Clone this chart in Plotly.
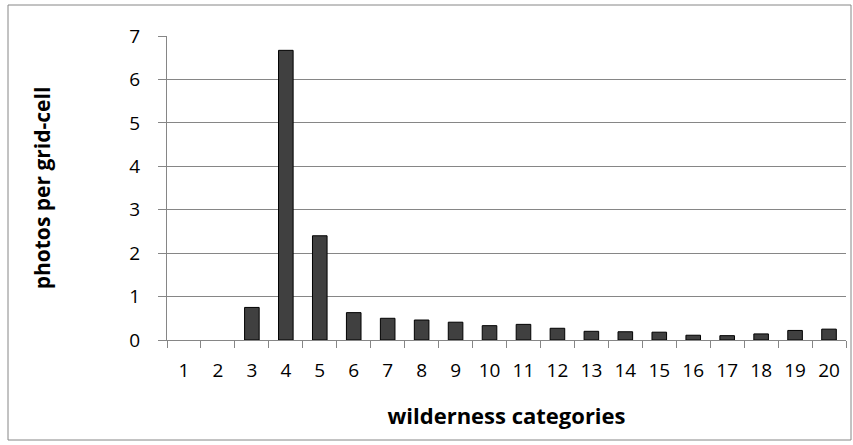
import plotly.graph_objects as go

categories = [str(i) for i in range(1, 21)]
values = [0, 0, 0.75, 6.67, 2.40, 0.63, 0.50, 0.46, 0.41, 0.33,
          0.36, 0.27, 0.20, 0.19, 0.18, 0.11, 0.10, 0.14, 0.22, 0.25]
y_ticks = [0, 1, 2, 3, 4, 5, 6, 7]

W, H = 853, 445
L, R, T, B = 167, 7, 36, 105
pw, ph = W - L - R, H - T - B

def px(x):
    return (x - L) / pw

def py(y):
    return (H - B - y) / ph

fig = go.Figure()
fig.add_trace(go.Bar(
    x=categories, y=values,
    marker=dict(color="#404040",
                line=dict(color="#000000", width=[0 if v == 0 else 1 for v in values])),
    width=0.43,
))

grid = "#868686"
font = "Open Sans"
fig.update_layout(
    width=W, height=H,
    margin=dict(l=L, r=R, t=T, b=B),
    plot_bgcolor="white", paper_bgcolor="white",
    showlegend=False,
    font=dict(family=font, color="#000000", size=19),
    xaxis=dict(
        type="category",
        showline=True, linecolor=grid, linewidth=1,
        ticks="outside", tickson="boundaries", ticklen=7, tickcolor=grid,
        showgrid=False,
        tickfont=dict(size=19),
        ticklabelstandoff=13,
        title=dict(text="<b>wilderness categories</b>", font=dict(size=22), standoff=26),
    ),
    yaxis=dict(
        range=[0, 7], tickvals=y_ticks,
        showline=True, linecolor=grid, linewidth=1,
        ticks="outside", ticklen=8, tickcolor=grid,
        showgrid=True, gridcolor=grid, gridwidth=1,
        zeroline=False,
        tickfont=dict(size=19),
        ticklabelstandoff=14,
        title=dict(text="<b>photos per grid-cell</b>", font=dict(size=21), standoff=72),
    ),
    shapes=[dict(
        type="rect", xref="paper", yref="paper",
        x0=px(8), x1=px(851), y0=py(440), y1=py(5),
        line=dict(color=grid, width=1), fillcolor="rgba(0,0,0,0)", layer="below",
    )],
)

fig.write_html("out.html", config={"displayModeBar": False},
               post_script="document.body.style.margin='0';document.body.style.overflow='hidden';")
